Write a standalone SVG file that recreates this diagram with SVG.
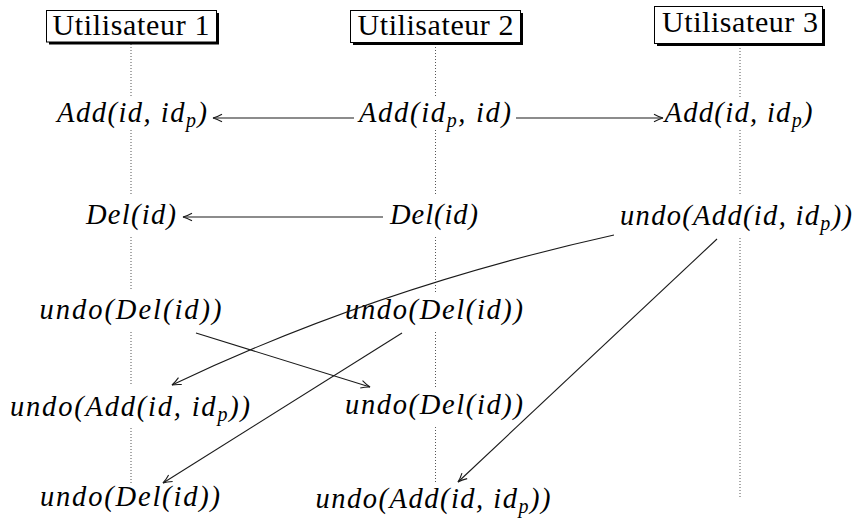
<svg xmlns="http://www.w3.org/2000/svg" width="859" height="519" viewBox="0 0 859 519">
  <style>
    .h { font-family: "Liberation Serif", serif; font-size: 30px; fill: #000; }
    .m { font-family: "Liberation Serif", serif; font-style: italic; font-size: 28.5px; fill: #000; }
    .box { fill: #fff; stroke: #000; stroke-width: 1; }
    .shadow { fill: #000; }
    .life { stroke: #555; stroke-width: 1; stroke-dasharray: 1 2; fill: none; }
    .arr { stroke: #1a1a1a; stroke-width: 1.1; fill: none; marker-end: url(#tip); }
  </style>
  <defs>
    <marker id="tip" markerUnits="userSpaceOnUse" markerWidth="14" markerHeight="12" viewBox="-11 -6 13 12" refX="0" refY="0" orient="auto">
      <path d="M-9,-3.8 Q-4,-1 0,0 Q-4,1 -9,3.8" fill="none" stroke="#1a1a1a" stroke-width="1.1"/>
    </marker>
  </defs>
  <rect width="859" height="519" fill="#fff"/>

  <g id="lifelines">
    <path class="life" d="M131,44 V98 M131,130 V195 M131,237 V291 M131,332 V386 M131,428 V483"/>
    <path class="life" d="M435.5,44 V98 M435.5,130 V195 M435.5,237 V292 M435.5,332 V388 M435.5,427 V483"/>
    <path class="life" d="M740,45 V98 M740,130 V195 M740,238 V499"/>
  </g>

  <g id="user1">
    <rect class="shadow" x="49" y="13" width="170" height="31.5"/>
    <rect class="box" x="46.5" y="10.5" width="170" height="31.5"/>
    <text class="h" x="131" y="35" text-anchor="middle" textLength="157">Utilisateur 1</text>
  </g>
  <g id="user2">
    <rect class="shadow" x="353" y="13" width="170" height="32"/>
    <rect class="box" x="350.5" y="10.5" width="170" height="32"/>
    <text class="h" x="435.5" y="35" text-anchor="middle" textLength="156">Utilisateur 2</text>
  </g>
  <g id="user3">
    <rect class="shadow" x="657" y="9" width="168" height="37"/>
    <rect class="box" x="654.5" y="6.5" width="168" height="37"/>
    <text class="h" x="740" y="32" text-anchor="middle" textLength="156">Utilisateur 3</text>
  </g>

  <g id="n1-add">
    <text class="m" x="132" y="122" text-anchor="middle" textLength="150">Add(id, id<tspan font-size="20" dy="5">p</tspan><tspan dy="-5">)</tspan></text>
  </g>
  <g id="n2-add">
    <text class="m" x="435" y="122" text-anchor="middle" textLength="152">Add(id<tspan font-size="20" dy="5">p</tspan><tspan dy="-5">, id)</tspan></text>
  </g>
  <g id="n3-add">
    <text class="m" x="738.5" y="122" text-anchor="middle" textLength="148">Add(id, id<tspan font-size="20" dy="5">p</tspan><tspan dy="-5">)</tspan></text>
  </g>

  <g id="n1-del">
    <text class="m" x="131" y="224" text-anchor="middle" textLength="90">Del(id)</text>
  </g>
  <g id="n2-del">
    <text class="m" x="434" y="224" text-anchor="middle" textLength="88">Del(id)</text>
  </g>
  <g id="n3-undo-add">
    <text class="m" x="736" y="225" text-anchor="middle" textLength="232">undo(Add(id, id<tspan font-size="20" dy="5">p</tspan><tspan dy="-5">))</tspan></text>
  </g>

  <g id="n1-undo-del">
    <text class="m" x="130.5" y="319" text-anchor="middle" textLength="182">undo(Del(id))</text>
  </g>
  <g id="n2-undo-del">
    <text class="m" x="434" y="319" text-anchor="middle" textLength="178">undo(Del(id))</text>
  </g>

  <g id="n1-undo-add">
    <text class="m" x="130" y="416" text-anchor="middle" textLength="240">undo(Add(id, id<tspan font-size="20" dy="5">p</tspan><tspan dy="-5">))</tspan></text>
  </g>
  <g id="n2-undo-del-b">
    <text class="m" x="434" y="414" text-anchor="middle" textLength="178">undo(Del(id))</text>
  </g>

  <g id="n1-undo-del-b">
    <text class="m" x="130" y="506" text-anchor="middle" textLength="180">undo(Del(id))</text>
  </g>
  <g id="n2-undo-add">
    <text class="m" x="433" y="508" text-anchor="middle" textLength="235">undo(Add(id, id<tspan font-size="20" dy="5">p</tspan><tspan dy="-5">))</tspan></text>
  </g>

  <g id="connectors">
    <path class="arr" d="M354,118 H213"/>
    <path class="arr" d="M516,118 H663"/>
    <path class="arr" d="M383,217 H183"/>
    <path class="arr" d="M614,235 Q375,288 172,385"/>
    <path class="arr" d="M196,333 L370,387"/>
    <path class="arr" d="M402,333 L163,483"/>
    <path class="arr" d="M717,239 L458,482"/>
  </g>
</svg>
